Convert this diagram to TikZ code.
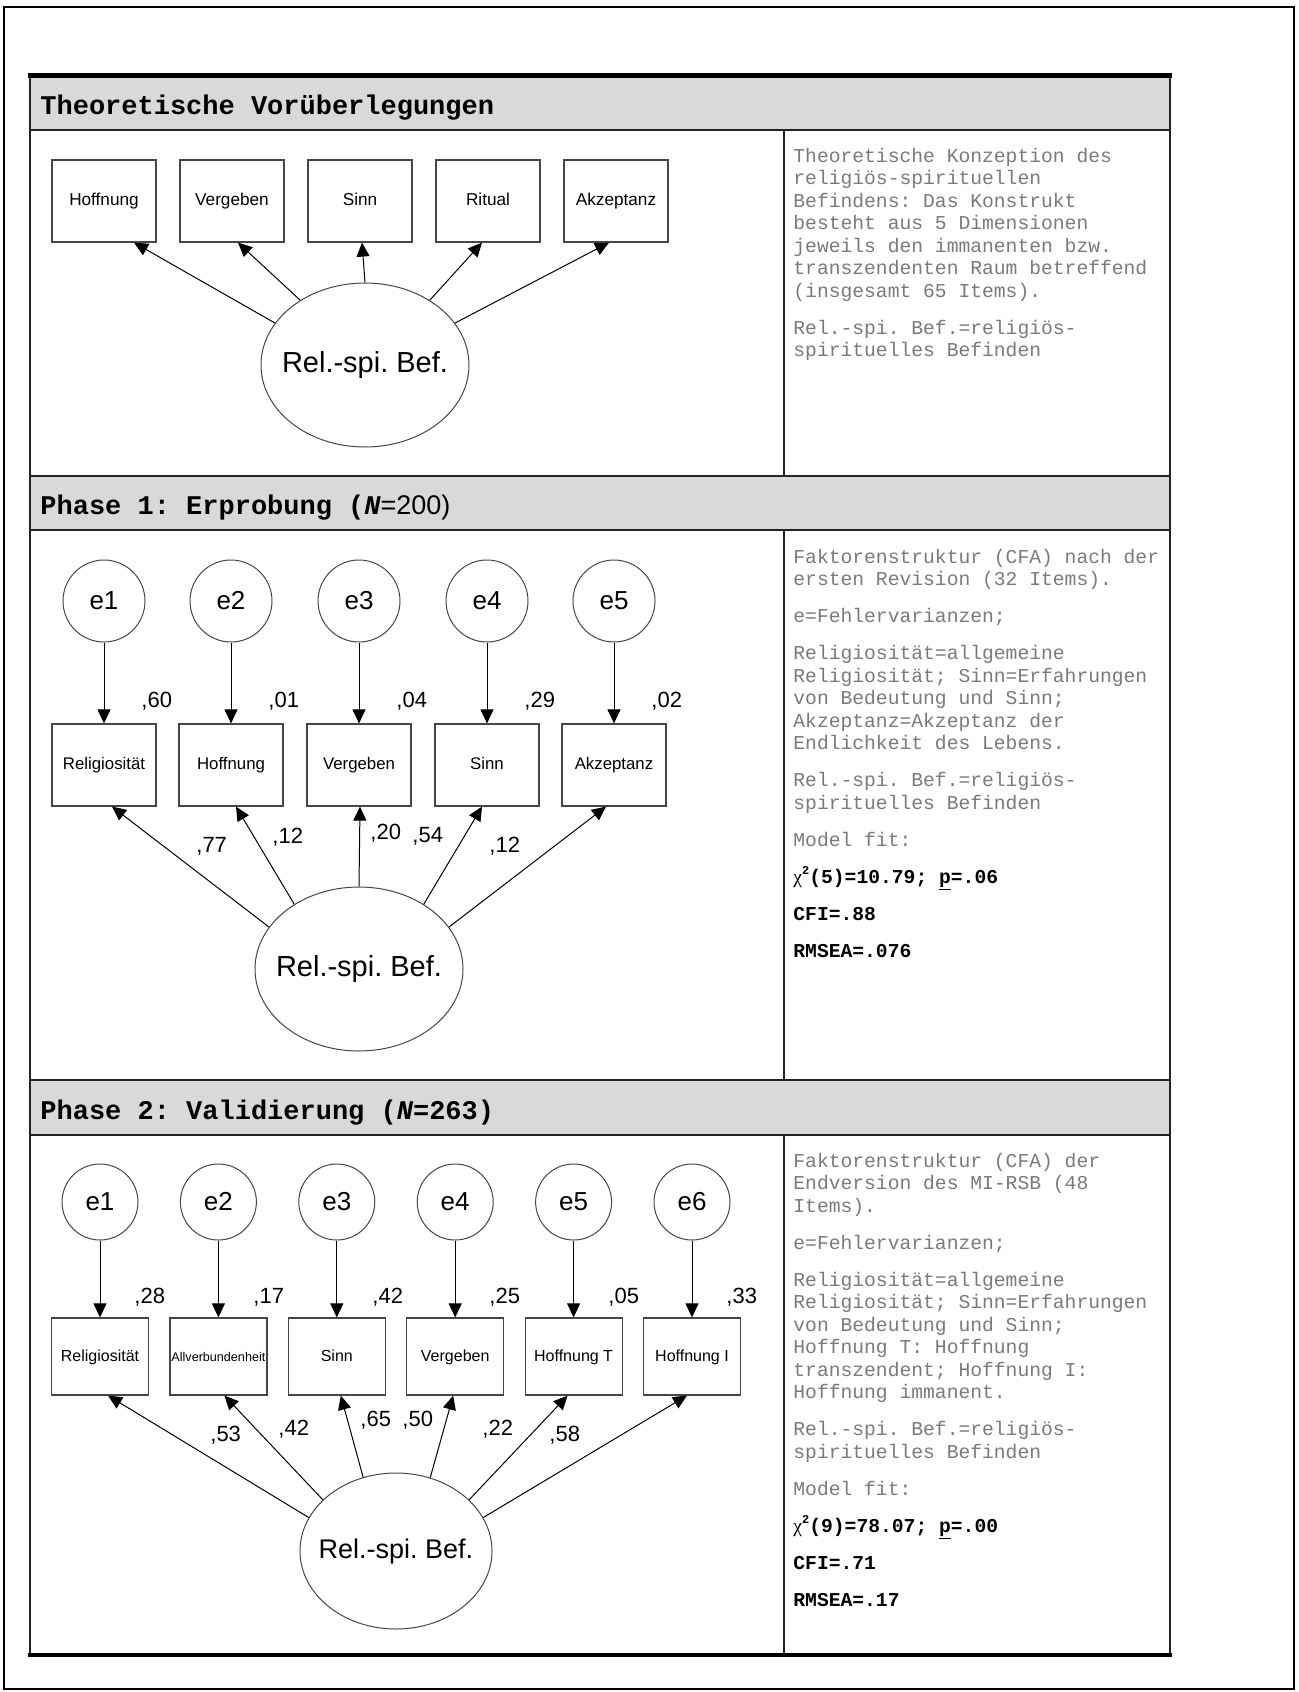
\documentclass[tikz,border=0pt]{standalone}
\usepackage{fontspec}
\setmainfont{Liberation Sans}
\newfontfamily\armono{Liberation Mono}
\newfontfamily\arsans{Liberation Sans}
\newfontfamily\arserif{Liberation Serif}
\usetikzlibrary{shapes.geometric,arrows.meta,calc}

\definecolor{bandgray}{RGB}{217,217,217}
\definecolor{notegray}{RGB}{122,122,122}
\definecolor{rulegray}{RGB}{35,35,35}
\definecolor{shapegray}{RGB}{70,70,70}

\frenchspacing
% paragraph break inside the side notes
\newcommand\pgap{\\[7.25pt]}
% model fit lines: chi with superscript degree marker
\newcommand\chisq[1]{{\arserif\mdseries χ}\raisebox{4.2pt}{\fontsize{6}{6}\selectfont 2}(#1)}

\tikzset{
  band/.style={fill=bandgray, draw=none},
  rulethin/.style={line width=1pt, draw=rulegray},
  rulethick/.style={line width=2.2pt, draw=black},
  hdr/.style={anchor=base west, inner sep=0pt, font=\armono\bfseries\fontsize{13.5}{16}\selectfont},
  note/.style={anchor=base west, inner sep=0pt, text=notegray},
  obs/.style={rectangle, draw=shapegray, line width=0.6pt, minimum width=52pt, minimum height=41pt,
              inner sep=0pt, text height=6.4pt, text depth=1.8pt,
              font=\arsans\fontsize{8.4}{10}\selectfont},
  obss/.style={obs, minimum width=48.5pt, minimum height=38.5pt, font=\arsans\fontsize{8}{10}\selectfont},
  err/.style={circle, draw=shapegray, line width=0.5pt, minimum size=41pt, inner sep=0pt,
              font=\arsans\fontsize{13}{15}\selectfont},
  errs/.style={err, minimum size=38pt},
  lat/.style={ellipse, draw=shapegray, line width=0.5pt, minimum width=104pt, minimum height=82pt,
              inner sep=0pt, font=\arsans\fontsize{14.5}{17}\selectfont},
  lats/.style={lat, minimum width=96pt, minimum height=78pt, font=\arsans\fontsize{13.5}{16}\selectfont},
  val/.style={anchor=base west, inner sep=0pt, font=\arsans\fontsize{11}{13}\selectfont},
  path/.style={-{Triangle[length=7pt,width=6.5pt]}, line width=0.5pt},
}

\newcommand\notefont{\armono\fontsize{9.83}{11.25}\selectfont}

\begin{document}
\begin{tikzpicture}[x=0.5pt, y=-0.5pt]
\useasboundingbox (0,0) rectangle (1299,1692);

% outer frame
\draw[line width=1pt] (4,7) rectangle (1294,1689);

% header bands
\fill[band] (30,76) rectangle (1170,130);
\fill[band] (30,476) rectangle (1170,530);
\fill[band] (30,1080) rectangle (1170,1135);

% table rules
\draw[rulethin] (30,130) -- (1170,130);
\draw[rulethin] (30,476) -- (1170,476);
\draw[rulethin] (30,530) -- (1170,530);
\draw[rulethin] (30,1080) -- (1170,1080);
\draw[rulethin] (30,1135) -- (1170,1135);
\draw[rulethin] (30,75) -- (30,1655);
\draw[rulethin] (1170,75) -- (1170,1655);
\draw[rulethin] (784,130) -- (784,476);
\draw[rulethin] (784,530) -- (784,1080);
\draw[rulethin] (784,1135) -- (784,1655);
\draw[rulethick] (28,75.5) -- (1172,75.5);
\draw[rulethick] (28,1655) -- (1172,1655);

% header titles
\node[hdr] (h1) at (40,114.5) {Theoretische Vorüberlegungen};
\node[hdr] (h2) at (40,514.5) {Phase 1: Erprobung ({\itshape N}{\arsans\mdseries =200)}};
\node[hdr] (h3) at (40,1119.5) {Phase 2: Validierung ({\itshape N}=263)};

% ---------------- theoretical model ----------------
\node[obs, font=\arsans\fontsize{8.6}{10}\selectfont] (a1) at (104,201) {Hoffnung};
\node[obs, font=\arsans\fontsize{8.6}{10}\selectfont] (a2) at (232,201) {Vergeben};
\node[obs, font=\arsans\fontsize{8.6}{10}\selectfont] (a3) at (360,201) {Sinn};
\node[obs, font=\arsans\fontsize{8.6}{10}\selectfont] (a4) at (488,201) {Ritual};
\node[obs, font=\arsans\fontsize{8.6}{10}\selectfont] (a5) at (616,201) {Akzeptanz};
\node[lat] (L1) at (365,365) {\makebox[0pt]{Rel.-spi. Bef.}};
\draw[path] (L1.155) -- ($(a1.south)+(30,0)$);
\draw[path] (L1.135) -- ($(a2.south)+(6,0)$);
\draw[path] (L1.90)  -- ($(a3.south)+(2,0)$);
\draw[path] (L1.45)  -- ($(a4.south)+(-6,0)$);
\draw[path] (L1.25)  -- ($(a5.south)+(-7,0)$);

\node[note] (n1) at (793,162) {\parbox[t]{200pt}{\notefont\raggedright
Theoretische Konzeption des\\
religiös-spirituellen\\
Befindens: Das Konstrukt\\
besteht aus 5 Dimensionen\\
jeweils den immanenten bzw.\\
transzendenten Raum betreffend\\
(insgesamt 65 Items).\pgap
Rel.-spi. Bef.=religiös-\\
spirituelles Befinden}};

% ---------------- phase 1 model ----------------
\node[err] (e11) at (104,601) {e1};
\node[err] (e12) at (231,601) {e2};
\node[err] (e13) at (359,601) {e3};
\node[err] (e14) at (487,601) {e4};
\node[err] (e15) at (614,601) {e5};
\node[obs] (b11) at (104,765) {Religiosität};
\node[obs] (b12) at (231,765) {Hoffnung};
\node[obs] (b13) at (359,765) {Vergeben};
\node[obs] (b14) at (487,765) {Sinn};
\node[obs] (b15) at (614,765) {Akzeptanz};
\node[lat] (L2) at (359,969) {\makebox[0pt]{Rel.-spi. Bef.}};
\foreach \i in {1,...,5} \draw[path] (e1\i.south) -- (b1\i.north);
\node[val] (r11) at (141,707) {,60};
\node[val] (r12) at (268,707) {,01};
\node[val] (r13) at (396,707) {,04};
\node[val] (r14) at (524,707) {,29};
\node[val] (r15) at (651,707) {,02};
\draw[path] (L2.155) -- ($(b11.south)+(8,0)$);
\draw[path] (L2.135) -- ($(b12.south)+(5,0)$);
\draw[path] (L2.90)  -- ($(b13.south)+(1,0)$);
\draw[path] (L2.45)  -- ($(b14.south)+(-5,0)$);
\draw[path] (L2.25)  -- ($(b15.south)+(-8,0)$);
\node[val] (w11) at (196,852) {,77};
\node[val] (w12) at (272,843) {,12};
\node[val] (w13) at (370,839) {,20};
\node[val] (w14) at (412,842) {,54};
\node[val] (w15) at (489,852) {,12};

\node[note] (n2) at (793,563) {\parbox[t]{200pt}{\notefont\raggedright
Faktorenstruktur (CFA) nach der\\
ersten Revision (32 Items).\pgap
e=Fehlervarianzen;\pgap
Religiosität=allgemeine\\
Religiosität; Sinn=Erfahrungen\\
von Bedeutung und Sinn;\\
Akzeptanz=Akzeptanz der\\
Endlichkeit des Lebens.\pgap
Rel.-spi. Bef.=religiös-\\
spirituelles Befinden\pgap
Model fit:\pgap
{\color{black}\bfseries\chisq{5}=10.79; \underline{p}=.06}\pgap
{\color{black}\bfseries CFI=.88}\pgap
{\color{black}\bfseries RMSEA=.076}}};

% ---------------- phase 2 model ----------------
\node[errs] (e21) at (100,1202) {e1};
\node[errs] (e22) at (218.4,1202) {e2};
\node[errs] (e23) at (336.8,1202) {e3};
\node[errs] (e24) at (455.2,1202) {e4};
\node[errs] (e25) at (573.6,1202) {e5};
\node[errs] (e26) at (692,1202) {e6};
\node[obss] (b21) at (100,1356.5) {Religiosität};
\node[obss, font=\arsans\fontsize{6.3}{8}\selectfont] (b22) at (218.4,1356.5) {Allverbundenheit};
\node[obss] (b23) at (336.8,1356.5) {Sinn};
\node[obss] (b24) at (455.2,1356.5) {Vergeben};
\node[obss] (b25) at (573.6,1356.5) {Hoffnung T};
\node[obss] (b26) at (692,1356.5) {Hoffnung I};
\node[lats] (L3) at (396,1551) {\makebox[0pt]{Rel.-spi. Bef.}};
\foreach \i in {1,...,6} \draw[path] (e2\i.south) -- (b2\i.north);
\node[val] (r21) at (134,1303) {,28};
\node[val] (r22) at (253,1303) {,17};
\node[val] (r23) at (372,1303) {,42};
\node[val] (r24) at (489,1303) {,25};
\node[val] (r25) at (608,1303) {,05};
\node[val] (r26) at (726,1303) {,33};
\draw[path] (L3.159) -- ($(b21.south)+(8,0)$);
\draw[path] (L3.145) -- ($(b22.south)+(6,0)$);
\draw[path] (L3.114) -- ($(b23.south)+(4,0)$);
\draw[path] (L3.65)  -- ($(b24.south)+(-2,0)$);
\draw[path] (L3.35)  -- ($(b25.south)+(-6,0)$);
\draw[path] (L3.21)  -- ($(b26.south)+(-5,0)$);
\node[val] (w21) at (210,1441) {,53};
\node[val] (w22) at (278,1435) {,42};
\node[val] (w23) at (360,1426) {,65};
\node[val] (w24) at (402,1426) {,50};
\node[val] (w25) at (482,1435) {,22};
\node[val] (w26) at (549,1441) {,58};

\node[note] (n3) at (793,1167) {\parbox[t]{200pt}{\notefont\raggedright
Faktorenstruktur (CFA) der\\
Endversion des MI-RSB (48\\
Items).\pgap
e=Fehlervarianzen;\pgap
Religiosität=allgemeine\\
Religiosität; Sinn=Erfahrungen\\
von Bedeutung und Sinn;\\
Hoffnung T: Hoffnung\\
transzendent; Hoffnung I:\\
Hoffnung immanent.\pgap
Rel.-spi. Bef.=religiös-\\
spirituelles Befinden\pgap
Model fit:\pgap
{\color{black}\bfseries\chisq{9}=78.07; \underline{p}=.00}\pgap
{\color{black}\bfseries CFI=.71}\pgap
{\color{black}\bfseries RMSEA=.17}}};

\end{tikzpicture}
\end{document}
